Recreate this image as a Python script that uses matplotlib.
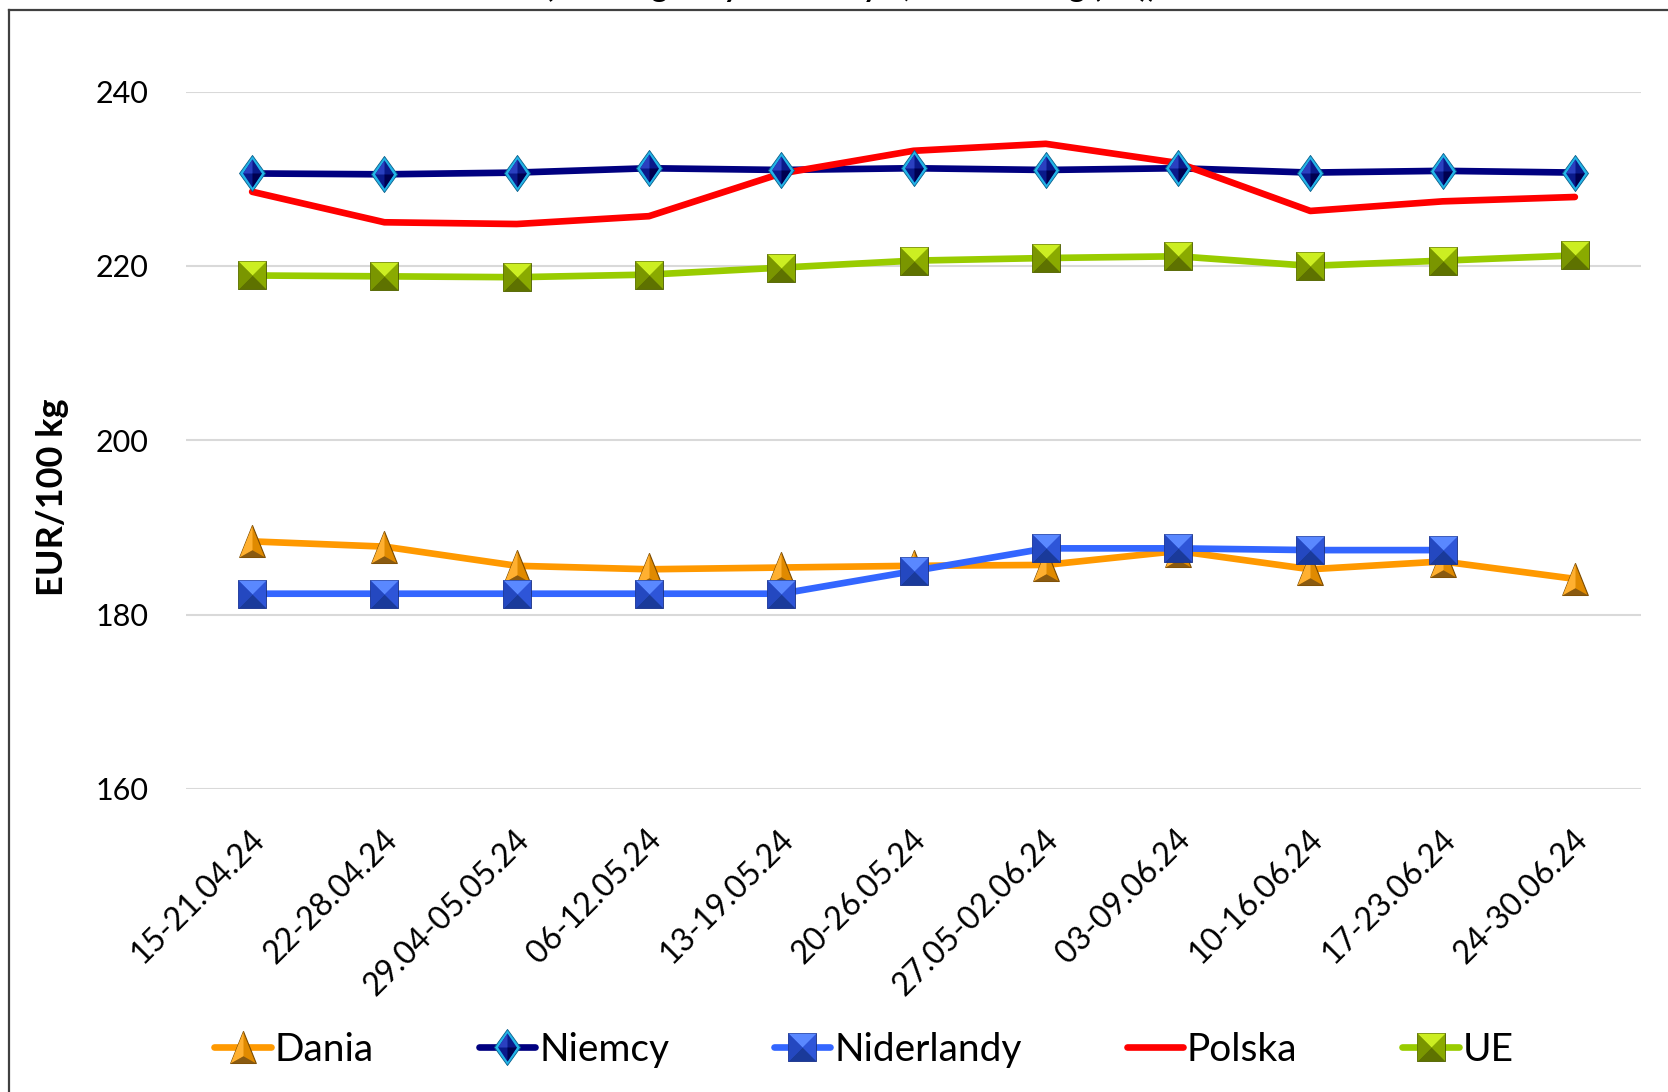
import matplotlib
matplotlib.use("Agg")
import matplotlib.pyplot as plt
from matplotlib.path import Path
from matplotlib.lines import Line2D
from matplotlib.legend_handler import HandlerTuple
import matplotlib.transforms as mtransforms
import numpy as np

plt.rcParams['font.family'] = ['Lato', 'DejaVu Sans']

# ---------------- data ----------------
weeks = ["15-21.04.24", "22-28.04.24", "29.04-05.05.24", "06-12.05.24", "13-19.05.24",
         "20-26.05.24", "27.05-02.06.24", "03-09.06.24", "10-16.06.24", "17-23.06.24",
         "24-30.06.24"]
dania = [188.4, 187.8, 185.6, 185.2, 185.4, 185.6, 185.7, 187.3, 185.2, 186.1, 184.1]
niemcy = [230.6, 230.5, 230.7, 231.2, 231.0, 231.2, 231.0, 231.2, 230.7, 230.9, 230.7]
niderlandy = [182.4, 182.4, 182.4, 182.4, 182.4, 185.0, 187.6, 187.6, 187.4, 187.4, np.nan]
polska = [228.5, 225.0, 224.8, 225.7, 230.6, 233.2, 234.0, 231.8, 226.3, 227.4, 227.9]
ue = [218.9, 218.8, 218.7, 219.0, 219.8, 220.6, 220.9, 221.1, 220.0, 220.6, 221.2]

y_ticks = [160, 180, 200, 220, 240]
y_label = "EUR/100 kg"
title = "(dane wg ceny tusz klasy E, EUR/100 kg (KE))"

# ---------------- marker shapes (bevelled look) ----------------
def P(v):
    return Path(v + [v[0]], [Path.MOVETO] + [Path.LINETO] * (len(v) - 1) + [Path.CLOSEPOLY])

SQ = P([(-1, -1), (1, -1), (1, 1), (-1, 1)])
SQ_TOP = P([(-1, 1), (1, 1), (0, 0)])
SQ_BOT = P([(-1, -1), (1, -1), (0, 0)])
SQ_L = P([(-1, -1), (-1, 1), (0, 0)])

DI = P([(0, 1), (0.72, 0), (0, -1), (-0.72, 0)])
DI_IN = Path([(0, 0.78), (0.52, 0), (0, -0.78), (-0.52, 0), (0, 0.78), (0, 1), (0, -1)],
             [Path.MOVETO, Path.LINETO, Path.LINETO, Path.LINETO, Path.CLOSEPOLY, Path.MOVETO, Path.MOVETO])
DI_TL = Path([(0, 0.78), (-0.52, 0), (0, 0), (0, 0.78), (0, 1), (0, -1)],
             [Path.MOVETO, Path.LINETO, Path.LINETO, Path.CLOSEPOLY, Path.MOVETO, Path.MOVETO])
DI_BR = Path([(0, -0.78), (0.52, 0), (0, 0), (0, -0.78), (0, 1), (0, -1)],
             [Path.MOVETO, Path.LINETO, Path.LINETO, Path.CLOSEPOLY, Path.MOVETO, Path.MOVETO])

TR = P([(0, 1), (0.8, -1), (-0.8, -1)])
TR_L = P([(0, 1), (-0.8, -1), (0, -0.55)])
TR_B = P([(-0.8, -1), (0.8, -1), (0, -0.55)])

fig = plt.figure(figsize=(16.68, 10.92), dpi=100)
ax = fig.add_axes([186 / 1668, 1 - 789 / 1092, (1641 - 186) / 1668, (789 - 91.5) / 1092])

x = np.arange(len(weeks))

series = [
    ("Dania", dania, "#FF9900", [(TR, "#E08A00", "#7A4A00", 0.8), (TR_L, "#FFB030", "none", 0), (TR_B, "#8A5A10", "none", 0)], 23),
    ("Niemcy", niemcy, "#000080", [(DI, "#22B4E8", "#0A5F8A", 0.6), (DI_IN, "#0A1A8A", "none", 0), (DI_TL, "#2A40C0", "none", 0), (DI_BR, "#000050", "none", 0)], 26),
    ("Niderlandy", niderlandy, "#3366FF", [(SQ, "#2E55D8", "#1A3080", 0.6), (SQ_TOP, "#5A88FF", "none", 0), (SQ_BOT, "#1A3A9A", "none", 0), (SQ_L, "#2448C0", "none", 0)], 20),
    ("Polska", polska, "#FF0000", [], 0),
    ("UE", ue, "#99CC00", [(SQ, "#8AAA00", "#4A5A00", 0.6), (SQ_TOP, "#CCEE22", "none", 0), (SQ_BOT, "#5E7200", "none", 0), (SQ_L, "#7A9600", "none", 0)], 20),
]

handles = []
labels = []
for name, vals, col, marks, ms in series:
    ln, = ax.plot(x, vals, color=col, lw=4.8, solid_capstyle='round', zorder=3, clip_on=False)
    parts = [ln]
    for path, fc, ec, mew in marks:
        mk, = ax.plot(x, vals, linestyle='none', marker=path, markersize=ms,
                      markerfacecolor=fc, markeredgecolor=ec, markeredgewidth=mew,
                      zorder=4, clip_on=False)
        parts.append(mk)
    handles.append(tuple(parts))
    labels.append(name)

ax.set_xlim(-0.5, len(weeks) - 0.5)
ax.set_ylim(y_ticks[0], y_ticks[-1])
ax.set_yticks(y_ticks)
ax.set_yticklabels([str(v) for v in y_ticks], fontsize=22)
ax.set_xticks(x)
ax.set_xticklabels(weeks, fontsize=23, rotation=45, ha='right', va='center', rotation_mode='anchor')
ax.tick_params(axis='both', length=0)
ax.tick_params(axis='y', pad=27)
ax.tick_params(axis='x', pad=33)
shift = mtransforms.ScaledTranslation(8 / 100, 0, fig.dpi_scale_trans)
for lab in ax.get_xticklabels():
    lab.set_transform(lab.get_transform() + shift)
ax.grid(axis='y', color='#D9D9D9', lw=1.5)
ax.set_axisbelow(True)
for s in ax.spines.values():
    s.set_visible(False)

fig.text(53 / 1668, 0.545, y_label, rotation=90, fontsize=26, fontweight='bold',
         ha='center', va='center')

fig.text(0.51, 1 + 3 / 1092, title, fontsize=22, fontweight='bold', ha='center', va='baseline')

# chart frame (top and left edges visible)
fig.add_artist(Line2D([8.5 / 1668, 8.5 / 1668], [0, 1 - 10 / 1092], color='#404040', lw=1.6,
                      transform=fig.transFigure))
fig.add_artist(Line2D([8.5 / 1668, 1], [1 - 10 / 1092, 1 - 10 / 1092], color='#404040', lw=1.6,
                      transform=fig.transFigure))

leg = fig.legend(handles, labels, loc='center', bbox_to_anchor=(0.518, 0.0385), ncol=5,
                 frameon=False, fontsize=28, handlelength=1.45, handletextpad=0.1,
                 columnspacing=2.7, numpoints=1,
                 handler_map={tuple: HandlerTuple(ndivide=1, pad=0)})

fig.savefig("out.png", dpi=100)
